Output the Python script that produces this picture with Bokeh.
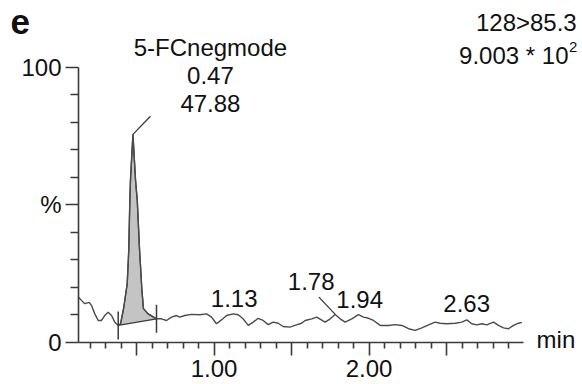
from bokeh.plotting import figure
from bokeh.models import Range1d, FixedTicker, CustomJSTickFormatter, Label
from bokeh.embed import file_html
from bokeh.resources import INLINE

# ---------------- data ----------------
time_min = [0.124, 0.145, 0.166, 0.195, 0.210, 0.231, 0.253, 0.274, 0.295, 0.317,
            0.339, 0.360, 0.382, 0.397, 0.418, 0.440, 0.450, 0.457, 0.461, 0.477,
            0.494, 0.505, 0.520, 0.535, 0.545, 0.575, 0.629, 0.661, 0.694, 0.726,
            0.758, 0.779, 0.812, 0.855, 0.908, 0.952, 0.984, 1.016, 1.048, 1.081,
            1.124, 1.156, 1.188, 1.221, 1.253, 1.285, 1.317, 1.350, 1.382, 1.414,
            1.446, 1.489, 1.532, 1.565, 1.588, 1.631, 1.663, 1.717, 1.750, 1.782,
            1.814, 1.846, 1.889, 1.932, 1.965, 1.997, 2.029, 2.072, 2.126, 2.169,
            2.212, 2.255, 2.298, 2.341, 2.384, 2.427, 2.459, 2.502, 2.556, 2.599,
            2.631, 2.663, 2.695, 2.728, 2.760, 2.803, 2.835, 2.868, 2.900, 2.932,
            2.965, 2.986]
intensity_pct = [16.5, 15.3, 14.1, 14.6, 13.4, 10.4, 8.0, 8.0, 9.8, 11.0,
                 9.8, 7.4, 6.2, 6.8, 12.8, 21.3, 33.4, 51.6, 58.8, 75.6,
                 58.8, 51.6, 33.4, 18.9, 12.3, 10.4, 8.6, 8.6, 8.0, 9.2,
                 9.8, 9.2, 9.8, 10.2, 10.1, 10.4, 9.2, 6.8, 8.2, 9.8,
                 10.4, 10.1, 8.6, 6.2, 7.4, 8.8, 8.0, 6.5, 7.4, 7.0,
                 5.8, 5.6, 6.4, 7.0, 8.0, 8.6, 9.2, 7.4, 8.6, 10.2,
                 8.6, 7.4, 8.6, 10.1, 9.2, 8.8, 8.0, 6.2, 6.2, 6.5,
                 6.2, 5.0, 4.4, 5.3, 6.4, 7.4, 7.0, 6.8, 7.0, 7.4,
                 8.2, 6.8, 6.4, 6.8, 6.4, 7.4, 6.2, 5.3, 5.0, 6.2,
                 7.0, 7.3]

peak_start = 0.382
peak_apex = 0.477
peak_end = 0.629
compound_name = "5-FCnegmode"
peak_rt_text = "0.47"
peak_area_text = "47.88"

minor_peak_rt = [1.13, 1.94, 2.63]
minor_peak_text = ["1.13", "1.94", "2.63"]
minor_peak_label_y = [12.2, 11.9, 10.4]
offset_peak_rt = 1.782
offset_peak_text = "1.78"

transition_text = "128>85.3"
scale_text = "9.003 * 10"
scale_exp_text = "2"
panel_letter = "e"
x_unit_text = "min"

x_major_ticks = [0.5, 1.0, 1.5, 2.0, 2.5]
x_minor_ticks = [0.2, 0.3, 0.4, 0.6, 0.7, 0.8, 0.9, 1.1, 1.2, 1.3, 1.4, 1.6, 1.7,
                 1.8, 1.9, 2.1, 2.2, 2.3, 2.4, 2.6, 2.7, 2.8, 2.9]
y_major_ticks = [0, 50, 100]
y_minor_ticks = [10, 20, 30, 40, 60, 70, 80, 90]

# ---------------- layout ----------------
W, H = 580, 383
PX_PER_MIN = 155.0
PX_PER_PCT = 2.753
X_AT_1MIN_PX = 213.5     # canvas x of t = 1.00
Y_AT_0_PX = 342.0        # canvas y of 0 %
X_AXIS_START = 0.126
X_AXIS_END = 2.995

x_lo = 1 - X_AT_1MIN_PX / PX_PER_MIN
x_hi = x_lo + W / PX_PER_MIN
y_lo = -(H - Y_AT_0_PX) / PX_PER_PCT
y_hi = Y_AT_0_PX / PX_PER_PCT

FONT = "Liberation Sans"
FS = "24px"
TXT = "#111111"
LINE = "#3a3a3a"
TEXT_RAISE_PX = 10      # compensates the renderer's baseline placement

p = figure(width=W, height=H,
           x_range=Range1d(x_lo, x_hi), y_range=Range1d(y_lo, y_hi),
           min_border_left=0, min_border_right=0, min_border_top=0,
           min_border_bottom=0,
           output_backend="svg", toolbar_location=None)
p.outline_line_color = None
p.xgrid.visible = False
p.ygrid.visible = False
p.background_fill_color = "white"
p.border_fill_color = "white"

# axes (placed inside the frame at data positions)
xa = p.xaxis[0]
xa.fixed_location = 0
xa.bounds = (X_AXIS_START, X_AXIS_END)
xa.ticker = FixedTicker(ticks=x_major_ticks, minor_ticks=x_minor_ticks)
xa.formatter = CustomJSTickFormatter(code="""
    if (Math.abs(tick - 1) < 1e-6) return "1.00";
    if (Math.abs(tick - 2) < 1e-6) return "2.00";
    return "";
""")
xa.major_tick_out = 13
xa.major_tick_in = 0
xa.minor_tick_out = 6
xa.minor_tick_in = 0
xa.major_label_standoff = 4

ya = p.yaxis[0]
ya.fixed_location = X_AXIS_START
ya.bounds = (0, 100)
ya.ticker = FixedTicker(ticks=y_major_ticks, minor_ticks=y_minor_ticks)
ya.formatter = CustomJSTickFormatter(code="""
    if (Math.abs(tick) < 1e-6) return "0";
    if (Math.abs(tick - 50) < 1e-6) return "%";
    if (Math.abs(tick - 100) < 1e-6) return "100";
    return "";
""")
ya.major_tick_out = 13
ya.major_tick_in = 0
ya.minor_tick_out = 8
ya.minor_tick_in = 0
ya.major_label_standoff = 4

for ax in (xa, ya):
    ax.axis_line_color = LINE
    ax.axis_line_width = 1.6
    ax.major_tick_line_color = LINE
    ax.major_tick_line_width = 1.6
    ax.minor_tick_line_color = LINE
    ax.minor_tick_line_width = 1.6
    ax.major_label_text_font = FONT
    ax.major_label_text_font_size = FS
    ax.major_label_text_color = TXT

# integrated peak area
i0 = time_min.index(peak_start)
i1 = time_min.index(peak_end)
px = time_min[i0:i1 + 1]
py = intensity_pct[i0:i1 + 1]
p.patch(px, py, fill_color="#c4c4c4", line_color=LINE, line_width=1.3)

# chromatogram trace
p.line(time_min, intensity_pct, line_color="#4a4a4a", line_width=1.4)

# peak boundary markers
MARK_HALF = 5.1
ys0 = intensity_pct[i0]
ys1 = intensity_pct[i1]
p.segment(x0=[peak_start, peak_end], y0=[ys0 - MARK_HALF, ys1 - MARK_HALF],
          x1=[peak_start, peak_end], y1=[ys0 + MARK_HALF, ys1 + MARK_HALF],
          line_color=LINE, line_width=1.5)

# leader line from main peak apex to its label
ia = time_min.index(peak_apex)
p.segment(x0=[peak_apex], y0=[intensity_pct[ia]], x1=[0.590], y1=[82.2],
          line_color=LINE, line_width=1.3)

# leader line for offset peak label (1.78)
io = time_min.index(offset_peak_rt)
p.segment(x0=[1.677], y0=[16.5], x1=[time_min[io]], y1=[intensity_pct[io]],
          line_color=LINE, line_width=1.3)


def add_label(x, y, text, align="center", size=FS, bold=False, raise_px=TEXT_RAISE_PX):
    lab = Label(x=x, y=y + raise_px / PX_PER_PCT, text=text, text_font=FONT,
                text_font_size=size, text_align=align, text_baseline="alphabetic",
                text_color=TXT, text_font_style="bold" if bold else "normal")
    p.add_layout(lab)


# main peak annotation
LBL_X = 0.977
add_label(LBL_X, 103.6, compound_name)
add_label(LBL_X, 93.4, peak_rt_text)
add_label(LBL_X, 83.1, peak_area_text)

# minor peak labels
for x, t, y in zip(minor_peak_rt, minor_peak_text, minor_peak_label_y):
    add_label(x, y, t)
add_label(1.627, 18.6, offset_peak_text)

# header texts
add_label(3.340, 112.7, transition_text, align="right")
add_label(3.287, 100.6, scale_text, align="right")
add_label(3.290, 105.0, scale_exp_text, align="left", size="15px", raise_px=6)
add_label(-0.313, 112.8, panel_letter, align="left", size="35px", bold=True)

# x unit
add_label(3.081, -2.65, x_unit_text, align="left")

open("out.html", "w").write(file_html(p, INLINE))
